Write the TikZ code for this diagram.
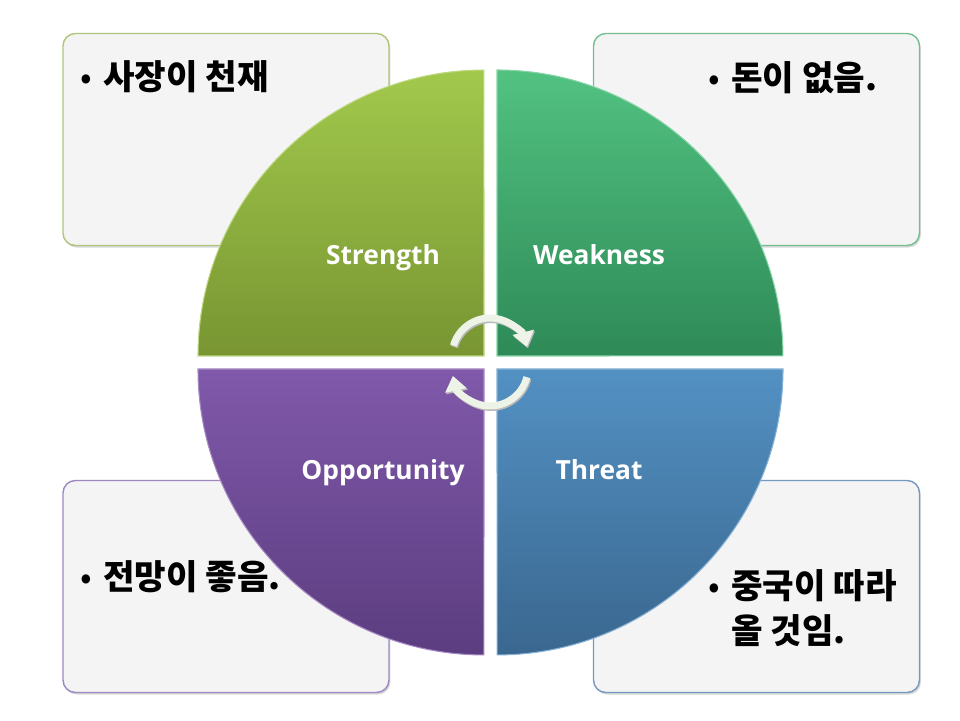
\documentclass[tikz,border=0pt]{standalone}
\usepackage{fontspec}
\newfontfamily\korfont{Noto Sans CJK KR}
\newfontfamily\labfont{Open Sans}
\usetikzlibrary{arrows.meta,shadows}

\definecolor{cardfill}{HTML}{F4F4F4}
\definecolor{sline}{HTML}{AFC57C}
\definecolor{wline}{HTML}{74BE92}
\definecolor{oline}{HTML}{9D87C2}
\definecolor{tline}{HTML}{7499C0}
\definecolor{stop}{HTML}{A2C94C}
\definecolor{sbot}{HTML}{789532}
\definecolor{wtop}{HTML}{52C281}
\definecolor{wbot}{HTML}{2E8A57}
\definecolor{otop}{HTML}{8059AA}
\definecolor{obot}{HTML}{5C3D80}
\definecolor{ttop}{HTML}{5391C3}
\definecolor{tbot}{HTML}{3A678F}
\definecolor{cyc}{HTML}{EEF3E8}

\newcommand{\bul}[1]{\makebox[0.46cm][l]{\mdseries •}#1}

\begin{document}
\begin{tikzpicture}[x=0.02cm,y=0.02cm,
  card/.style={draw=#1,line width=0.8pt,fill=cardfill,rounded corners=7pt,
               minimum width=6.52cm,minimum height=4.24cm,
               drop shadow={opacity=0.3,shadow xshift=0.8pt,shadow yshift=-1.2pt}},
  txt/.style={anchor=west,inner sep=0pt,align=left,
              font=\korfont\bfseries\fontsize{19.5}{26}\selectfont},
  quad/.style 2 args={top color=#1,bottom color=#2,draw=#1!70!white,line width=0.6pt},
  qlab/.style={anchor=base,text=white,font=\labfont\bfseries\fontsize{15}{18}\selectfont},
  turn/.style={line width=4pt,color=cyc,-{Triangle[length=8.5pt,width=12pt]}},
  turnshade/.style={turn,color=gray!55,shift={(1,-1.5)}},
]
\useasboundingbox[fill=white] (0,0) rectangle (960,720);

% text cards behind the circle
\node[card=sline] (sbox) at (226,580.5) {};
\node[card=wline] (wbox) at (756.5,580.5) {};
\node[card=oline] (obox) at (226,133.5) {};
\node[card=tline] (tbox) at (756.5,133.5) {};

\node[txt] (stext) at (80,643) {\bul{사장이 천재}};
\node[txt] (wtext) at (708,642) {\bul{돈이 없음.}};
\node[txt] (otext) at (80,143) {\bul{전망이 좋음.}};
\node[txt] (ttext) at (708,112) {\bul{중국이 따라}\\\hspace*{0.46cm}올 것임.};

% four quarters of the circle
\path[quad={stop}{sbot}] (484,364) -- (198,364) arc[start angle=180,end angle=90,radius=5.72cm] -- cycle;
\path[quad={wtop}{wbot}] (497,364) -- (497,650) arc[start angle=90,end angle=0,radius=5.72cm] -- cycle;
\path[quad={otop}{obot}] (484,351) -- (198,351) arc[start angle=180,end angle=270,radius=5.72cm] -- cycle;
\path[quad={ttop}{tbot}] (497,351) -- (783,351) arc[start angle=0,end angle=-90,radius=5.72cm] -- cycle;

\node[qlab] (str) at (383,455) {Strength};
\node[qlab] (wea) at (599,455) {Weakness};
\node[qlab] (opp) at (383,240) {Opportunity};
\node[qlab] (thr) at (599,240) {Threat};

% cycle arrows in the middle
\draw[turnshade] (490,364) ++(164:0.76cm) arc[start angle=164,end angle=14,radius=0.76cm];
\draw[turn] (490,364) ++(164:0.76cm) arc[start angle=164,end angle=14,radius=0.76cm];
\draw[turnshade] (490,352) ++(-14:0.76cm) arc[start angle=-14,end angle=-168,radius=0.76cm];
\draw[turn] (490,352) ++(-14:0.76cm) arc[start angle=-14,end angle=-168,radius=0.76cm];
\end{tikzpicture}
\end{document}
